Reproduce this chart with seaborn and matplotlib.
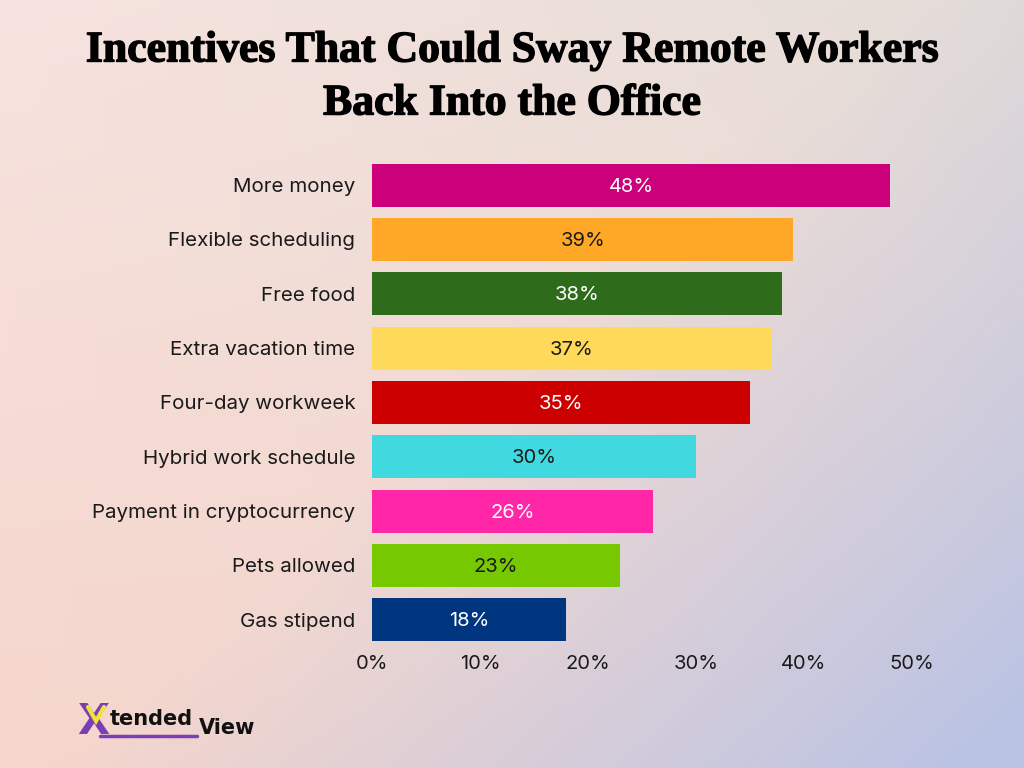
import numpy as np
import pandas as pd
import matplotlib
matplotlib.use("Agg")
import matplotlib.pyplot as plt
import matplotlib.patheffects as pe
import seaborn as sns

categories = ["More money", "Flexible scheduling", "Free food", "Extra vacation time",
              "Four-day workweek", "Hybrid work schedule", "Payment in cryptocurrency",
              "Pets allowed", "Gas stipend"]
values = [48, 39, 38, 37, 35, 30, 26, 23, 18]
bar_colors = ["#cc007a", "#ffa726", "#2e6b1b", "#ffd95a", "#cc0000",
              "#40d9e0", "#ff26a8", "#76c900", "#003580"]
label_colors = ["white", "#1a1a1a", "white", "#1a1a1a", "white",
                "#1a1a1a", "white", "#1a1a1a", "white"]
x_ticks = [0, 10, 20, 30, 40, 50]
x_tick_labels = ["0%", "10%", "20%", "30%", "40%", "50%"]
title = "Incentives That Could Sway Remote Workers\nBack Into the Office"

sns.set_theme(style="white")
plt.rcParams["font.family"] = ["Inter", "DejaVu Sans"]

fig = plt.figure(figsize=(10.24, 7.68), dpi=100)

# background gradient
H, W = 384, 512
yy, xx = np.mgrid[0:H, 0:W]
u = xx / (W - 1)
v = yy / (H - 1)
tl = np.array([247, 227, 223]) / 255
tr = np.array([228, 221, 215]) / 255
bl = np.array([245, 214, 204]) / 255
br = np.array([242, 214, 206]) / 255
base = ((1 - u)[..., None] * (1 - v)[..., None] * tl + u[..., None] * (1 - v)[..., None] * tr
        + (1 - u)[..., None] * v[..., None] * bl + u[..., None] * v[..., None] * br)
blue = np.array([185, 195, 228]) / 255
w = np.clip((u * 1.1 + v * 0.9 - 0.95) / 1.0, 0, 1) ** 1.1
img = base * (1 - w[..., None]) + blue * w[..., None]
bg = fig.add_axes([0, 0, 1, 1], zorder=-10)
bg.imshow(img, aspect="auto", extent=[0, 1, 0, 1], origin="upper")
bg.axis("off")

ax = fig.add_axes([372 / 1024, 1 - 647 / 768, 540 / 1024, (647 - 158) / 768])
ax.patch.set_alpha(0)

df = pd.DataFrame({"category": categories, "value": values})
sns.barplot(data=df, y="category", x="value", hue="category", palette=bar_colors,
            orient="h", legend=False, ax=ax, width=0.79, saturation=1, linewidth=0)

for i, p in enumerate(ax.patches[:len(values)]):
    p.set_edgecolor("none")
    cx = p.get_x() + p.get_width() / 2
    cy = p.get_y() + p.get_height() / 2
    ax.text(cx, cy + 0.03, f"{values[i]}%", ha="center", va="center",
            color=label_colors[i], fontsize=14.5)

ax.set_xlim(0, 50)
ax.set_ylim(8.5, -0.5)
ax.set_xticks(x_ticks)
ax.set_xticklabels(x_tick_labels, fontsize=14.5, color="#1a1a1a")
ax.tick_params(axis="y", labelsize=14.8, labelcolor="#1a1a1a", pad=12, length=0)
ax.tick_params(axis="x", pad=6, length=0)
ax.set_xlabel("")
ax.set_ylabel("")
for s in ax.spines.values():
    s.set_visible(False)
ax.grid(False)

fig.text(0.5, 1 - 77 / 768, title, ha="center", va="center", fontsize=31.5,
         fontweight="bold", family=["Liberation Serif", "DejaVu Serif"],
         linespacing=1.42, color="black",
         path_effects=[pe.withStroke(linewidth=1.0, foreground="black")])

# logo
fig.text(77 / 1024, 1 - 722 / 768, "X", fontsize=30, fontweight="bold",
         color="#7b3fb5", family=["DejaVu Sans"], va="center", ha="left")
fig.add_artist(plt.Line2D([88 / 1024, 96 / 1024, 104 / 1024],
                          [1 - 707 / 768, 1 - 721 / 768, 1 - 707 / 768],
                          color="#f2e33a", lw=3, solid_joinstyle="miter", zorder=10))
fig.text(110 / 1024, 1 - 719 / 768, "tended", fontsize=15, fontweight="bold",
         color="#111111", family=["DejaVu Sans"], va="center", ha="left")
fig.text(199 / 1024, 1 - 728 / 768, "View", fontsize=15, fontweight="bold",
         color="#111111", family=["DejaVu Sans"], va="center", ha="left")
fig.add_artist(plt.Line2D([100 / 1024, 197 / 1024], [1 - 736 / 768, 1 - 736 / 768],
                          color="#7b3fb5", lw=2.5))

fig.savefig("out.png", dpi=100)
